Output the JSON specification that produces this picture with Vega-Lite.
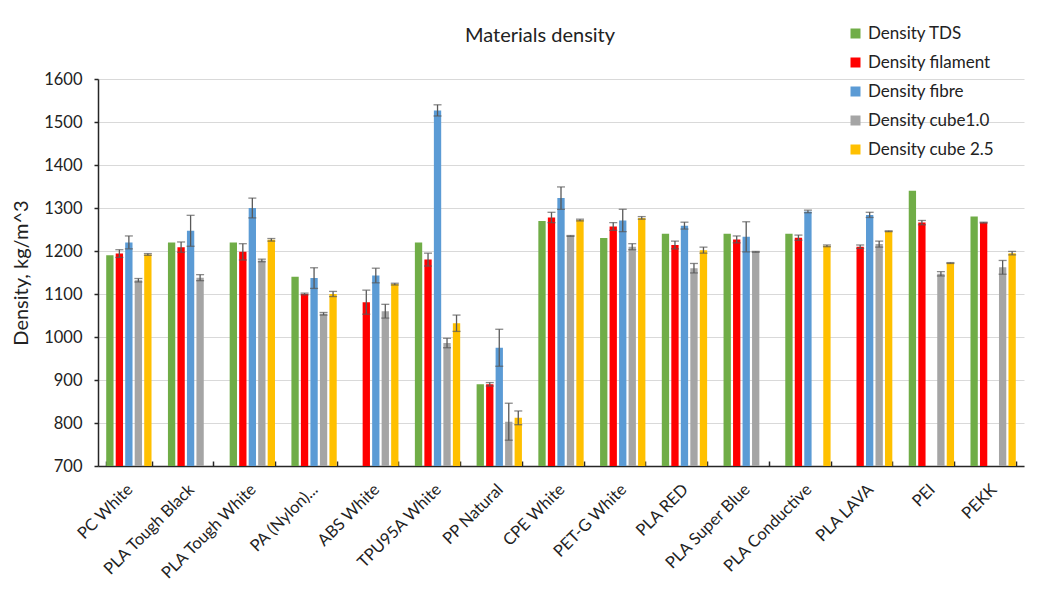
{
  "$schema": "https://vega.github.io/schema/vega-lite/v6.json",
  "width": 926,
  "height": 387,
  "autosize": "none",
  "padding": {"left": 98, "top": 79, "right": 38, "bottom": 123},
  "background": "white",
  "config": {"font": "Lato", "view": {"stroke": null}},
  "title": {"text": "Materials density", "fontSize": 20, "fontWeight": "normal", "color": "#222222", "anchor": "middle", "dx": -21, "offset": 0, "dy": 21},
  "data": {"values": [
    {"cat": "PC White", "series": "Density TDS", "value": 1190, "lo": null, "hi": null},
    {"cat": "PC White", "series": "Density filament", "value": 1194, "lo": 1185, "hi": 1203},
    {"cat": "PC White", "series": "Density fibre", "value": 1220, "lo": 1205, "hi": 1235},
    {"cat": "PC White", "series": "Density cube1.0", "value": 1132, "lo": 1128, "hi": 1136},
    {"cat": "PC White", "series": "Density cube 2.5", "value": 1192, "lo": 1190, "hi": 1194},
    {"cat": "PLA Tough Black", "series": "Density TDS", "value": 1220, "lo": null, "hi": null},
    {"cat": "PLA Tough Black", "series": "Density filament", "value": 1209, "lo": 1197, "hi": 1221},
    {"cat": "PLA Tough Black", "series": "Density fibre", "value": 1247, "lo": 1211, "hi": 1283},
    {"cat": "PLA Tough Black", "series": "Density cube1.0", "value": 1138, "lo": 1131, "hi": 1145},
    {"cat": "PLA Tough White", "series": "Density TDS", "value": 1220, "lo": null, "hi": null},
    {"cat": "PLA Tough White", "series": "Density filament", "value": 1198, "lo": 1179, "hi": 1217},
    {"cat": "PLA Tough White", "series": "Density fibre", "value": 1300, "lo": 1277, "hi": 1323},
    {"cat": "PLA Tough White", "series": "Density cube1.0", "value": 1178, "lo": 1175, "hi": 1181},
    {"cat": "PLA Tough White", "series": "Density cube 2.5", "value": 1226, "lo": 1223, "hi": 1229},
    {"cat": "PA (Nylon)...", "series": "Density TDS", "value": 1140, "lo": null, "hi": null},
    {"cat": "PA (Nylon)...", "series": "Density filament", "value": 1100, "lo": 1098, "hi": 1102},
    {"cat": "PA (Nylon)...", "series": "Density fibre", "value": 1137, "lo": 1113, "hi": 1161},
    {"cat": "PA (Nylon)...", "series": "Density cube1.0", "value": 1054, "lo": 1051, "hi": 1057},
    {"cat": "PA (Nylon)...", "series": "Density cube 2.5", "value": 1100, "lo": 1094, "hi": 1106},
    {"cat": "ABS White", "series": "Density filament", "value": 1081, "lo": 1053, "hi": 1109},
    {"cat": "ABS White", "series": "Density fibre", "value": 1143, "lo": 1126, "hi": 1160},
    {"cat": "ABS White", "series": "Density cube1.0", "value": 1060, "lo": 1044, "hi": 1076},
    {"cat": "ABS White", "series": "Density cube 2.5", "value": 1123, "lo": 1121, "hi": 1125},
    {"cat": "TPU95A White", "series": "Density TDS", "value": 1220, "lo": null, "hi": null},
    {"cat": "TPU95A White", "series": "Density filament", "value": 1180, "lo": 1165, "hi": 1195},
    {"cat": "TPU95A White", "series": "Density fibre", "value": 1527, "lo": 1514, "hi": 1540},
    {"cat": "TPU95A White", "series": "Density cube1.0", "value": 986, "lo": 975, "hi": 997},
    {"cat": "TPU95A White", "series": "Density cube 2.5", "value": 1032, "lo": 1013, "hi": 1051},
    {"cat": "PP Natural", "series": "Density TDS", "value": 890, "lo": null, "hi": null},
    {"cat": "PP Natural", "series": "Density filament", "value": 890, "lo": 886, "hi": 894},
    {"cat": "PP Natural", "series": "Density fibre", "value": 975, "lo": 932, "hi": 1018},
    {"cat": "PP Natural", "series": "Density cube1.0", "value": 803, "lo": 760, "hi": 846},
    {"cat": "PP Natural", "series": "Density cube 2.5", "value": 812, "lo": 796, "hi": 828},
    {"cat": "CPE White", "series": "Density TDS", "value": 1270, "lo": null, "hi": null},
    {"cat": "CPE White", "series": "Density filament", "value": 1278, "lo": 1266, "hi": 1290},
    {"cat": "CPE White", "series": "Density fibre", "value": 1323, "lo": 1297, "hi": 1349},
    {"cat": "CPE White", "series": "Density cube1.0", "value": 1235, "lo": 1234, "hi": 1236},
    {"cat": "CPE White", "series": "Density cube 2.5", "value": 1272, "lo": 1270, "hi": 1274},
    {"cat": "PET-G White", "series": "Density TDS", "value": 1230, "lo": null, "hi": null},
    {"cat": "PET-G White", "series": "Density filament", "value": 1257, "lo": 1248, "hi": 1266},
    {"cat": "PET-G White", "series": "Density fibre", "value": 1271, "lo": 1245, "hi": 1297},
    {"cat": "PET-G White", "series": "Density cube1.0", "value": 1210, "lo": 1203, "hi": 1217},
    {"cat": "PET-G White", "series": "Density cube 2.5", "value": 1277, "lo": 1274, "hi": 1280},
    {"cat": "PLA RED", "series": "Density TDS", "value": 1240, "lo": null, "hi": null},
    {"cat": "PLA RED", "series": "Density filament", "value": 1214, "lo": 1205, "hi": 1223},
    {"cat": "PLA RED", "series": "Density fibre", "value": 1259, "lo": 1251, "hi": 1267},
    {"cat": "PLA RED", "series": "Density cube1.0", "value": 1160, "lo": 1149, "hi": 1171},
    {"cat": "PLA RED", "series": "Density cube 2.5", "value": 1202, "lo": 1195, "hi": 1209},
    {"cat": "PLA Super Blue", "series": "Density TDS", "value": 1240, "lo": null, "hi": null},
    {"cat": "PLA Super Blue", "series": "Density filament", "value": 1227, "lo": 1219, "hi": 1235},
    {"cat": "PLA Super Blue", "series": "Density fibre", "value": 1233, "lo": 1198, "hi": 1268},
    {"cat": "PLA Super Blue", "series": "Density cube1.0", "value": 1198, "lo": 1197, "hi": 1199},
    {"cat": "PLA Conductive", "series": "Density TDS", "value": 1240, "lo": null, "hi": null},
    {"cat": "PLA Conductive", "series": "Density filament", "value": 1231, "lo": 1225, "hi": 1237},
    {"cat": "PLA Conductive", "series": "Density fibre", "value": 1292, "lo": 1289, "hi": 1295},
    {"cat": "PLA Conductive", "series": "Density cube 2.5", "value": 1212, "lo": 1210, "hi": 1214},
    {"cat": "PLA LAVA", "series": "Density filament", "value": 1210, "lo": 1206, "hi": 1214},
    {"cat": "PLA LAVA", "series": "Density fibre", "value": 1284, "lo": 1278, "hi": 1290},
    {"cat": "PLA LAVA", "series": "Density cube1.0", "value": 1216, "lo": 1209, "hi": 1223},
    {"cat": "PLA LAVA", "series": "Density cube 2.5", "value": 1246, "lo": 1245, "hi": 1247},
    {"cat": "PEI", "series": "Density TDS", "value": 1340, "lo": null, "hi": null},
    {"cat": "PEI", "series": "Density filament", "value": 1266, "lo": 1261, "hi": 1271},
    {"cat": "PEI", "series": "Density cube1.0", "value": 1147, "lo": 1142, "hi": 1152},
    {"cat": "PEI", "series": "Density cube 2.5", "value": 1172, "lo": 1171, "hi": 1173},
    {"cat": "PEKK", "series": "Density TDS", "value": 1280, "lo": null, "hi": null},
    {"cat": "PEKK", "series": "Density filament", "value": 1266, "lo": 1265, "hi": 1267},
    {"cat": "PEKK", "series": "Density cube1.0", "value": 1162, "lo": 1146, "hi": 1178},
    {"cat": "PEKK", "series": "Density cube 2.5", "value": 1195, "lo": 1191, "hi": 1199}
  ]},
  "encoding": {
    "x": {
      "field": "cat", "type": "nominal", "sort": null,
      "scale": {"paddingInner": 0.266, "paddingOuter": 0.133},
      "axis": {
        "title": null, "labelAngle": -45, "labelFontSize": 16.5, "labelColor": "#222222",
        "domainColor": "#262626", "domainWidth": 1.5, "tickColor": "#262626", "tickWidth": 1.5,
        "tickSize": -5, "tickBand": "extent", "labelPadding": 20, "labelOffset": -5, "grid": false, "labelLimit": 300
      }
    },
    "xOffset": {
      "field": "series", "type": "nominal",
      "scale": {"domain": ["Density TDS", "Density filament", "Density fibre", "Density cube1.0", "Density cube 2.5"], "paddingInner": 0.23}
    }
  },
  "layer": [
    {
      "mark": {"type": "bar", "clip": true},
      "encoding": {
        "y": {
          "field": "value", "type": "quantitative",
          "scale": {"domain": [700, 1600], "nice": false, "zero": false},
          "axis": {
            "title": "Density, kg/m^3", "titleFontSize": 20, "titleFontWeight": "normal", "titleColor": "#222222", "titlePadding": 12,
            "values": [700, 800, 900, 1000, 1100, 1200, 1300, 1400, 1500, 1600], "format": "d",
            "labelFontSize": 16.5, "labelColor": "#222222", "labelPadding": 12,
            "domainColor": "#262626", "domainWidth": 1.5, "tickColor": "#262626", "tickWidth": 1.5, "tickSize": 4,
            "gridColor": "#d9d9d9", "gridWidth": 1
          }
        },
        "color": {
          "field": "series", "type": "nominal",
          "scale": {"domain": ["Density TDS", "Density filament", "Density fibre", "Density cube1.0", "Density cube 2.5"], "range": ["#70AD47", "#FF0000", "#5B9BD5", "#A5A5A5", "#FFC000"]},
          "legend": {
            "title": null, "orient": "none", "legendX": 749, "legendY": -54,
            "symbolType": "square", "symbolSize": 100, "symbolStrokeWidth": 0, "symbolOpacity": 1,
            "labelFontSize": 17, "labelColor": "#222222", "rowPadding": 11, "labelOffset": 4
          }
        }
      }
    },
    {
      "transform": [{"filter": "datum.lo != null"}],
      "mark": {"type": "rule", "color": "#595959", "strokeWidth": 1.3},
      "encoding": {"y": {"field": "lo", "type": "quantitative"}, "y2": {"field": "hi"}}
    },
    {
      "transform": [{"filter": "datum.lo != null"}],
      "mark": {"type": "tick", "color": "#595959", "thickness": 1.3, "size": 8},
      "encoding": {"y": {"field": "lo", "type": "quantitative"}}
    },
    {
      "transform": [{"filter": "datum.hi != null"}],
      "mark": {"type": "tick", "color": "#595959", "thickness": 1.3, "size": 8},
      "encoding": {"y": {"field": "hi", "type": "quantitative"}}
    }
  ]
}
